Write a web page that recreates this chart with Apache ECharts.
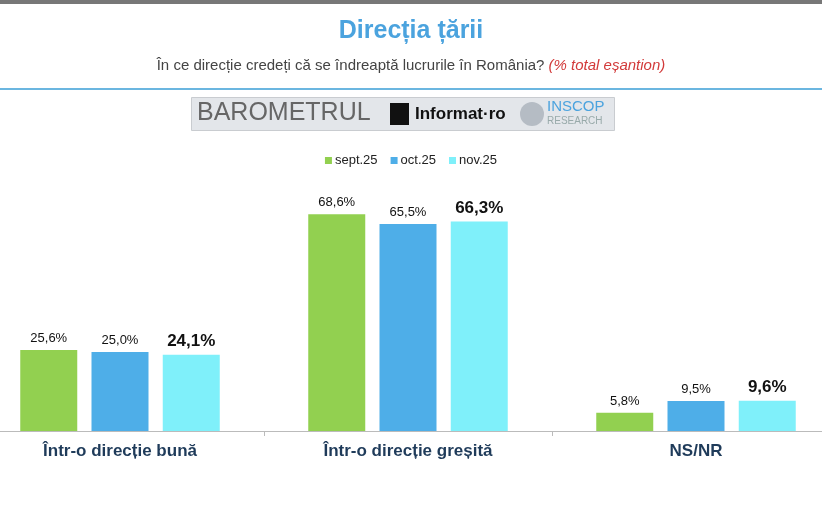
<!DOCTYPE html>
<html lang="ro">
<head>
<meta charset="UTF-8">
<title>Directia tarii</title>
<script src="https://cdn.jsdelivr.net/npm/echarts@6/dist/echarts.min.js"></script>
<style>html,body{margin:0;padding:0;background:#fff}</style>
</head>
<body>
<div id="main" style="width:822px;height:508px;"></div>
<script>
// date
var categories = ['Într-o direcție bună', 'Într-o direcție greșită', 'NS/NR'];
var sept25 = [25.6, 68.6, 5.8];
var oct25 = [25.0, 65.5, 9.5];
var nov25 = [24.1, 66.3, 9.6];
var seriesNames = ['sept.25', 'oct.25', 'nov.25'];
var colors = ['#92d050', '#4eaee8', '#7ff0fa'];

function fmt(v) { return v.toFixed(1).replace('.', ',') + '%'; }

var myChart = echarts.init(document.getElementById('main'));
var data = [sept25, oct25, nov25];
var series = [];
for (var i = 0; i < 3; i++) {
    var last = i === 2;
    series.push({
        name: seriesNames[i],
        type: 'bar',
        data: data[i],
        barWidth: 57,
        barGap: '25%',
        itemStyle: { color: colors[i] },
        label: {
            show: true, position: 'top', distance: 5,
            formatter: function (p) { return fmt(p.value); },
            fontFamily: 'Arial, Liberation Sans', fontSize: last ? 17 : 13,
            fontWeight: last ? 'bold' : 'normal', color: '#111'
        }
    });
}

myChart.setOption({
    animation: false,
    title: {
        text: 'Direcția țării',
        subtext: 'În ce direcție credeți că se îndreaptă lucrurile în România? {u|(% total eșantion)}',
        left: 'center', top: 14, itemGap: 14,
        textStyle: { fontFamily: 'Arial, Liberation Sans', fontSize: 25, fontWeight: 'bold', color: '#4ba3de' },
        subtextStyle: {
            fontFamily: 'Arial, Liberation Sans', fontSize: 15, color: '#444',
            rich: { u: { fontFamily: 'Arial, Liberation Sans', fontSize: 15, color: '#d23a3a', fontStyle: 'italic', textDecoration: 'underline' } }
        }
    },
    graphic: [
        { type: 'rect', left: 0, top: 0, shape: { width: 822, height: 4 }, style: { fill: '#777' } },
        { type: 'rect', left: 0, top: 88, shape: { width: 822, height: 2 }, style: { fill: '#6bb6e0' } },
        { type: 'rect', left: 191, top: 97, shape: { width: 423, height: 33 }, style: { fill: '#e3e6ea', stroke: '#c9ccd0' } },
        { type: 'text', left: 197, top: 101, style: { text: 'BAROMETRUL', font: '25px "Liberation Sans Narrow", "Liberation Sans"', fill: '#666' } },
        { type: 'rect', left: 390, top: 103, shape: { width: 19, height: 22 }, style: { fill: '#111' } },
        { type: 'text', left: 415, top: 106, style: { text: 'Informat·ro', font: 'bold 17px "Liberation Sans"', fill: '#111' } },
        { type: 'circle', left: 520, top: 102, shape: { r: 12 }, style: { fill: '#b5bcc4' } },
        { type: 'text', left: 547, top: 99, style: { text: 'INSCOP', font: '15px "Liberation Sans"', fill: '#4ba3de' } },
        { type: 'text', left: 547, top: 116, style: { text: 'RESEARCH', font: '10px "Liberation Sans"', fill: '#9aa' } }
    ],
    legend: {
        data: seriesNames, top: 149, left: 'center',
        itemWidth: 7, itemHeight: 7, itemGap: 13, icon: 'rect',
        textStyle: { fontFamily: 'Arial, Liberation Sans', fontSize: 13, color: '#222', padding: [0, 0, 0, -2] }
    },
    grid: { left: -24, right: -18, top: 115, bottom: 77, outerBoundsMode: 'none', containLabel: false },
    xAxis: {
        type: 'category', data: categories,
        axisLine: { lineStyle: { color: '#bbb' } },
        axisTick: { show: true, length: 5, lineStyle: { color: '#bbb' } },
        axisLabel: { fontFamily: 'Arial, Liberation Sans', fontSize: 17, fontWeight: 'bold', color: '#1f3b5a', margin: 12 }
    },
    yAxis: { type: 'value', min: 0, max: 100, show: false, splitLine: { show: false } },
    series: series
});
</script>
</body>
</html>
